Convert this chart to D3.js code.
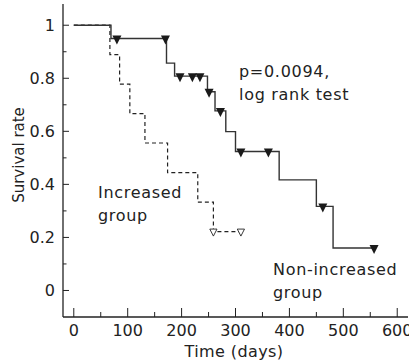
<!DOCTYPE html>
<html>
<head>
<meta charset="utf-8">
<script src="https://cdn.jsdelivr.net/npm/d3@7"></script>
<style>
  body { margin: 0; background: #fff; }
  svg { display: block; }
  text { font-family: "DejaVu Sans", sans-serif; fill: #222; }
</style>
</head>
<body>
<svg width="409" height="364"></svg>
<script>
// step curves: time of each drop and survival after it
var nonTimes = [0, 69, 172, 187, 248, 262, 282, 300, 381, 450, 481];
var nonSurv  = [1, 0.95, 0.857, 0.808, 0.749, 0.677, 0.599, 0.524, 0.417, 0.317, 0.16];
var nonEnd = 560;
var nonCensored = [80, 170, 197, 220, 234, 251, 272, 310, 361, 462, 557];

var incTimes = [0, 67, 85, 104, 132, 174, 230, 259];
var incSurv  = [1, 0.889, 0.778, 0.667, 0.556, 0.444, 0.333, 0.222];
var incEnd = 310;
var incCensored = [259, 310];

var xTicks = [0, 100, 200, 300, 400, 500, 600];
var yTicks = [0, 0.2, 0.4, 0.6, 0.8, 1];

var svg = d3.select("svg");

var x = d3.scaleLinear().domain([-20, 620]).range([63, 408]);
var y = d3.scaleLinear().domain([-0.1, 1.08]).range([317, 4]);

// axes
var xAxis = svg.append("g").attr("transform", "translate(0," + y(-0.1) + ")");
xAxis.append("line")
    .attr("x1", x(-20)).attr("x2", x(620))
    .attr("stroke", "#222").attr("stroke-width", 1.3);
xAxis.selectAll(".minor")
    .data(d3.range(50, 600, 100))
    .join("line")
    .attr("x1", d => x(d)).attr("x2", d => x(d))
    .attr("y1", 0).attr("y2", -5)
    .attr("stroke", "#222");
xAxis.selectAll(".major")
    .data(xTicks)
    .join("line")
    .attr("x1", d => x(d)).attr("x2", d => x(d))
    .attr("y1", 0).attr("y2", -9)
    .attr("stroke", "#222");
xAxis.selectAll("text")
    .data(xTicks)
    .join("text")
    .attr("x", d => x(d))
    .attr("y", 18.5)
    .attr("text-anchor", "middle")
    .style("font-size", "16px")
    .text(d => d);

var yAxis = svg.append("g").attr("transform", "translate(" + x(-20) + ",0)");
yAxis.append("line")
    .attr("y1", y(-0.1)).attr("y2", y(1.08))
    .attr("stroke", "#222").attr("stroke-width", 1.3);
yAxis.selectAll(".minor")
    .data([0.1, 0.3, 0.5, 0.7, 0.9])
    .join("line")
    .attr("y1", d => y(d)).attr("y2", d => y(d))
    .attr("x1", 0).attr("x2", 3.5)
    .attr("stroke", "#222");
yAxis.selectAll(".major")
    .data(yTicks)
    .join("line")
    .attr("y1", d => y(d)).attr("y2", d => y(d))
    .attr("x1", 0).attr("x2", 6)
    .attr("stroke", "#222");
yAxis.selectAll("text")
    .data(yTicks)
    .join("text")
    .attr("x", -8)
    .attr("y", d => y(d) + 6)
    .attr("text-anchor", "end")
    .style("font-size", "16px")
    .text(d => d);

svg.append("text")
    .attr("transform", "translate(24," + 155 + ") rotate(-90)")
    .attr("text-anchor", "middle")
    .style("font-size", "15px")
    .text("Survival rate");

svg.append("text")
    .attr("x", 234).attr("y", 357)
    .attr("text-anchor", "middle")
    .style("font-size", "16px")
    .style("letter-spacing", "0.4px")
    .text("Time (days)");

// build step points
function steps(times, surv, end) {
  var pts = [];
  times.forEach(function(t, i) {
    if (i > 0) pts.push([t, surv[i - 1]]);
    pts.push([t, surv[i]]);
  });
  pts.push([end, surv[surv.length - 1]]);
  return pts;
}
function survAt(times, surv, t) {
  var i = d3.bisectRight(times, t) - 1;
  return surv[Math.max(0, i)];
}

var line = d3.line().x(d => x(d[0])).y(d => y(d[1]));

svg.append("path")
    .datum(steps(incTimes, incSurv, incEnd))
    .attr("d", line)
    .attr("fill", "none")
    .attr("stroke", "#222")
    .attr("stroke-width", 1.2)
    .attr("stroke-dasharray", "4,3");

svg.append("path")
    .datum(steps(nonTimes, nonSurv, nonEnd))
    .attr("d", line)
    .attr("fill", "none")
    .attr("stroke", "#333")
    .attr("stroke-width", 1.4);

// censor marks: downward triangles hanging from the curve
function tri(cx, cy, w, up, down) {
  return "M" + (cx - w) + "," + (cy - up) + "L" + (cx + w) + "," + (cy - up) +
         "L" + cx + "," + (cy + down) + "Z";
}

svg.selectAll(".cnon")
    .data(nonCensored)
    .join("path")
    .attr("d", d => tri(x(d), y(survAt(nonTimes, nonSurv, d)), 4.5, 3, 6))
    .attr("fill", "#1a1a1a");

svg.selectAll(".cinc")
    .data(incCensored)
    .join("path")
    .attr("d", d => tri(x(d), y(survAt(incTimes, incSurv, d)), 3.6, 2.5, 4.5))
    .attr("fill", "#fff")
    .attr("stroke", "#222")
    .attr("stroke-width", 0.9);

// annotations
var notes = [
  {t: "p=0.0094,", x: 239, y: 77},
  {t: "log rank test", x: 239, y: 100},
  {t: "Increased", x: 98, y: 198},
  {t: "group", x: 98, y: 221},
  {t: "Non-increased", x: 273, y: 275},
  {t: "group", x: 273, y: 298}
];
svg.selectAll(".note")
    .data(notes)
    .join("text")
    .attr("x", d => d.x).attr("y", d => d.y)
    .style("font-size", "16px")
    .style("letter-spacing", "0.7px")
    .text(d => d.t);
</script>
</body>
</html>
